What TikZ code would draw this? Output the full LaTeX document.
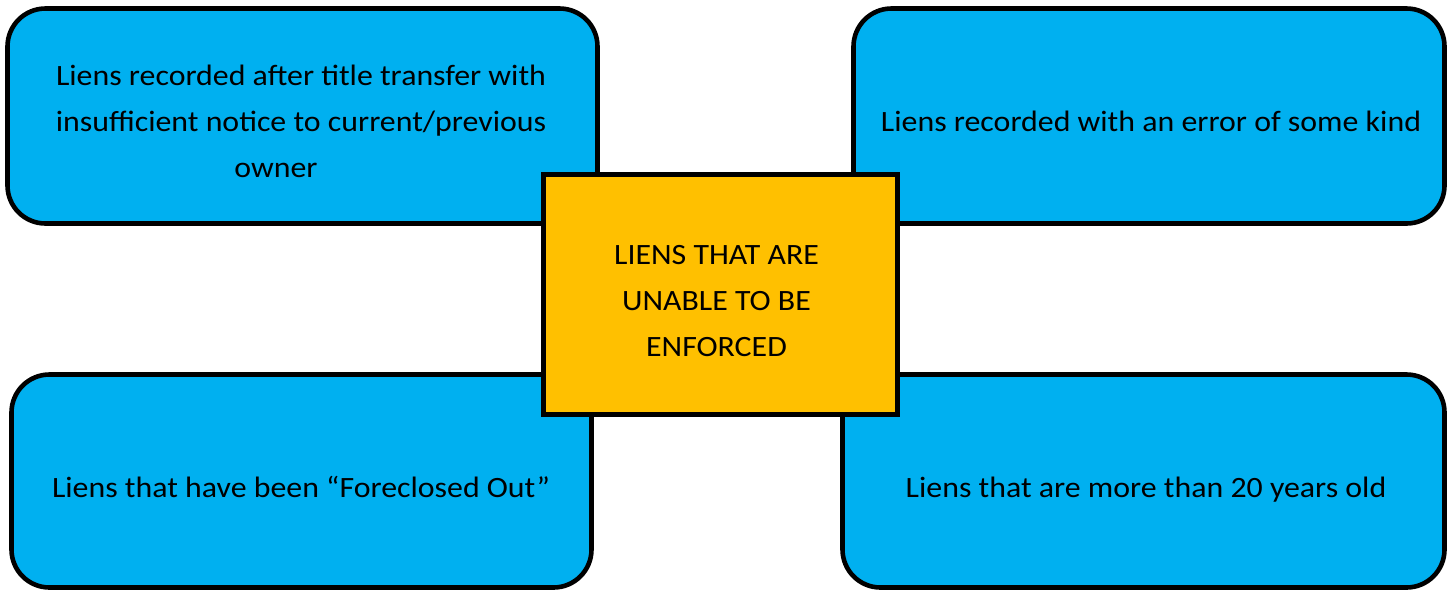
\documentclass[tikz,border=0pt]{standalone}
\usepackage{fontspec}
\setmainfont{Carlito}[FakeStretch=1.08]
\definecolor{boxblue}{HTML}{00B0F0}
\definecolor{boxgold}{HTML}{FFC000}
\begin{document}
\begin{tikzpicture}[x=1pt,y=-1pt,
  bluebox/.style={draw=black, line width=4.6pt, fill=boxblue, rounded corners=38pt, inner sep=0pt},
  goldbox/.style={draw=black, line width=4.6pt, fill=boxgold, inner sep=0pt},
  txt/.style={font=\fontsize{29.5}{46}\selectfont, align=center, inner sep=0pt, text=black}]
\useasboundingbox (0,0) rectangle (1455,590);
\node[bluebox, minimum width=590pt, minimum height=215pt] (tl) at (302.5,116) {};
\node[bluebox, minimum width=591pt, minimum height=215pt] (tr) at (1149,116) {};
\node[bluebox, minimum width=580pt, minimum height=213pt] (bl) at (301.5,481) {};
\node[bluebox, minimum width=602pt, minimum height=213pt] (br) at (1143.5,481) {};
\node[goldbox, minimum width=354pt, minimum height=240pt] (ctr) at (720.5,294.5) {};
\node[txt] (tlt) at (301,121) {Liens recorded after title transfer with\\insufficient notice to current/previous\\owner\hspace*{50pt}};
\node[txt] (trt) at (1151,121) {Liens recorded with an error of some kind};
\node[txt] (blt) at (301,487) {Liens that have been “Foreclosed Out”};
\node[txt] (brt) at (1146,489.5) {Liens that are more than 20 years old};
\node[txt] (ctrt) at (716.5,301.5) {LIENS THAT ARE\\UNABLE TO BE\\ENFORCED};
\end{tikzpicture}
\end{document}
